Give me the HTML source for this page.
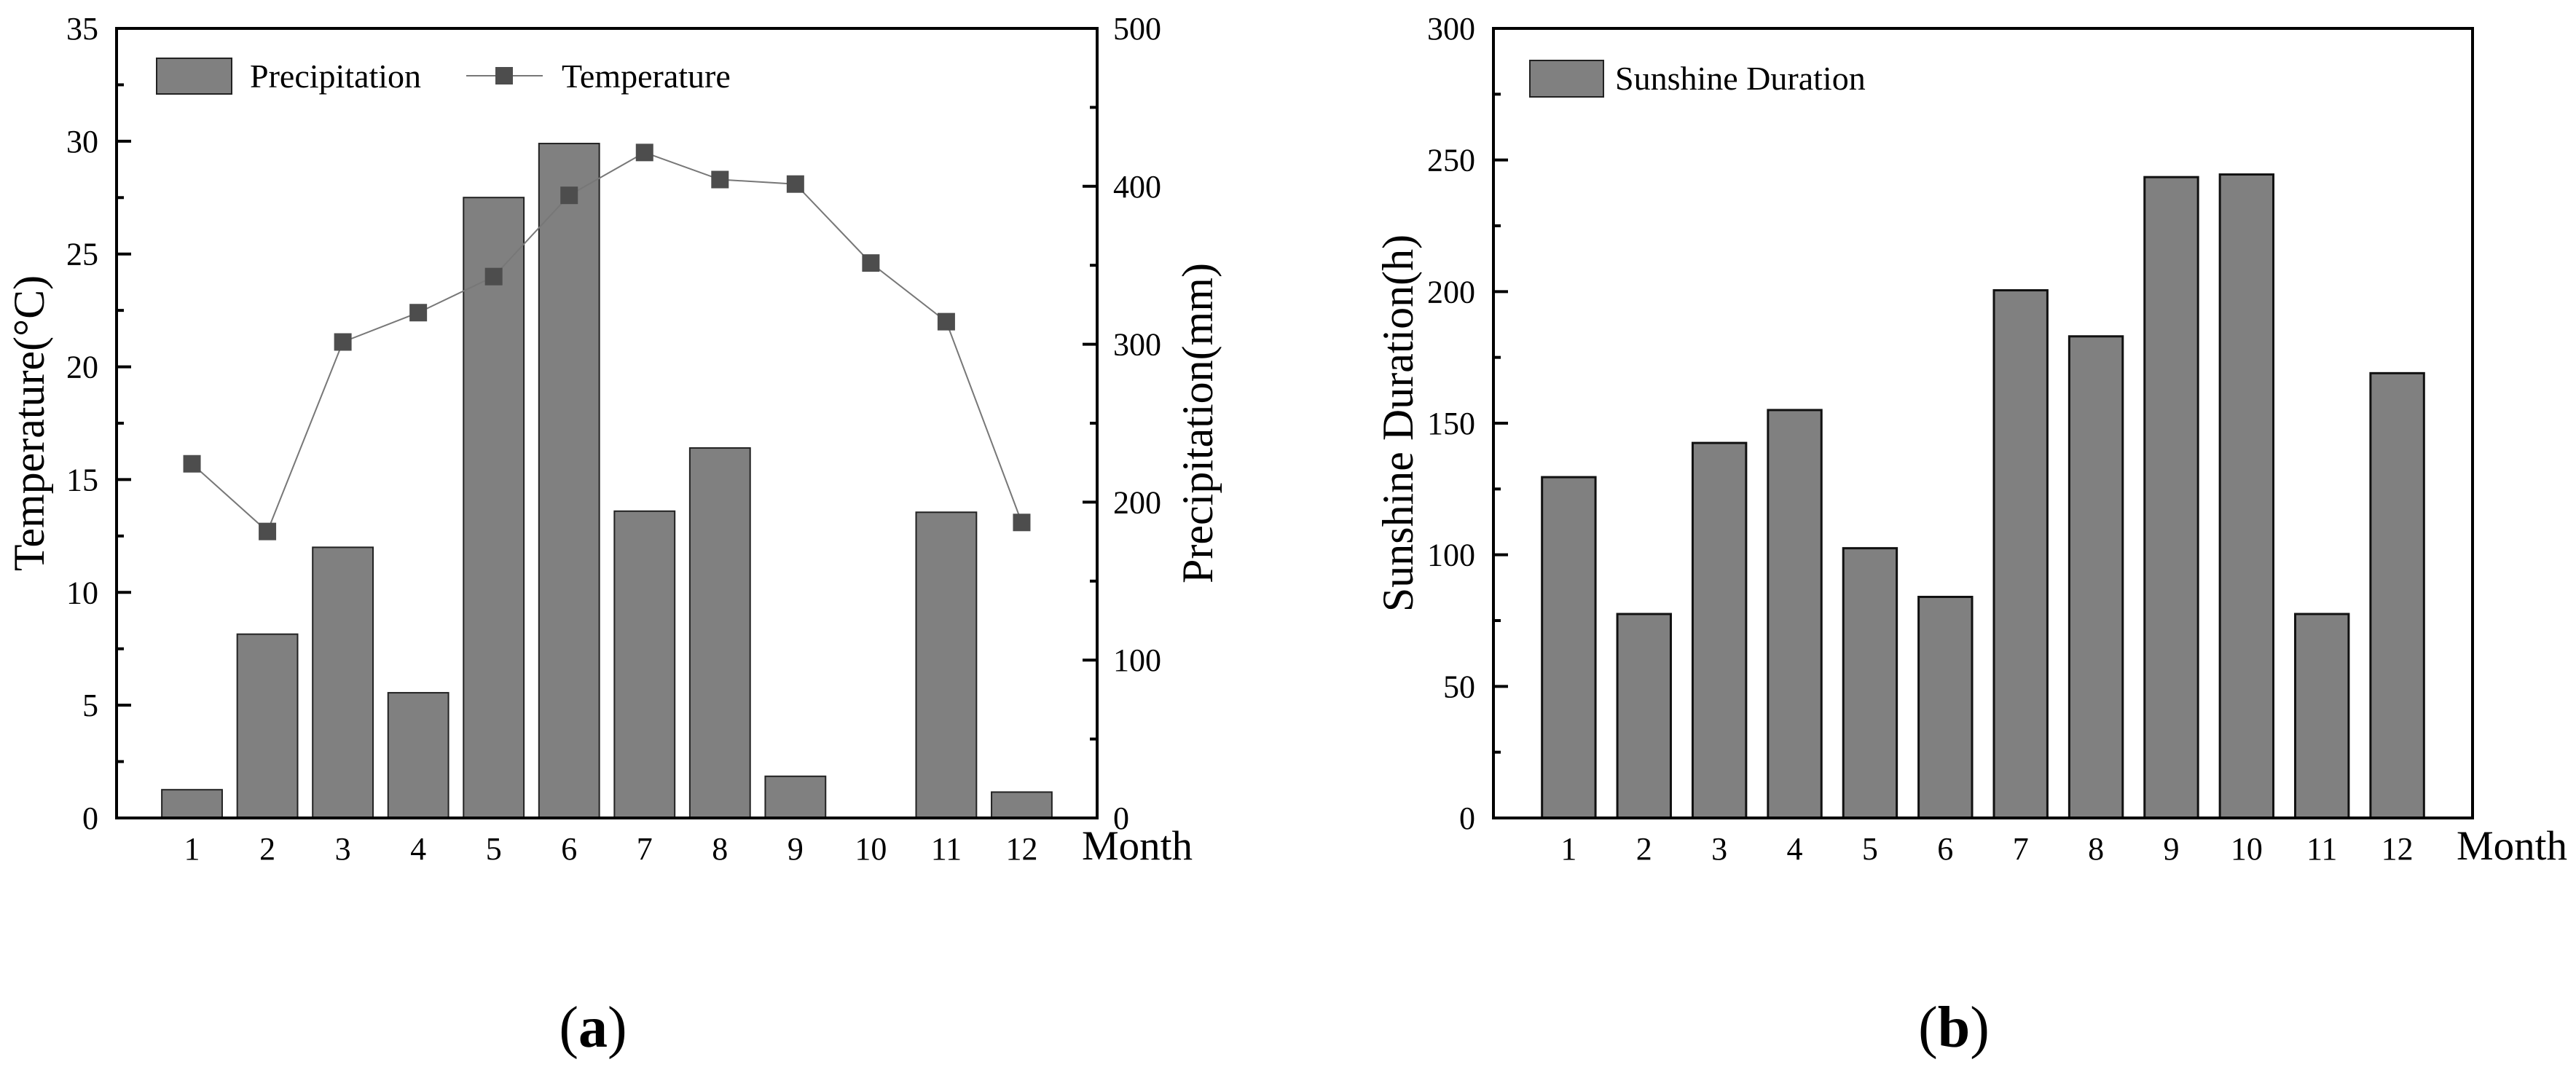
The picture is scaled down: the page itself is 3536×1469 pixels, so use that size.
<!DOCTYPE html>
<html><head><meta charset="utf-8"><style>
html,body{margin:0;padding:0;background:#fff;}
svg{display:block;font-family:"Liberation Serif",serif;}
</style></head><body>
<svg id="svg" width="3536" height="1469" viewBox="0 0 3536 1469" xmlns="http://www.w3.org/2000/svg">
<g id="ca"></g>
<g id="cb"></g>
<text x="814" y="1437" font-size="80" text-anchor="middle">(<tspan font-weight="bold">a</tspan>)</text>
<text x="2682" y="1437" font-size="80" text-anchor="middle">(<tspan font-weight="bold">b</tspan>)</text>
</svg>
<script>
const months = ["1","2","3","4","5","6","7","8","9","10","11","12"];
const precipitation = [17.9,116.4,171.4,79.3,392.9,427.1,194.3,234.3,26.4,0,193.6,16.4];
const temperature = [15.7,12.7,21.1,22.4,24.0,27.6,29.5,28.3,28.1,24.6,22.0,13.1];
const sunshine = [129.5,77.5,142.5,155,102.5,84,200.5,183,243.5,244.5,77.5,169];
const tempTicks = [0,5,10,15,20,25,30,35];
const precipTicks = [0,100,200,300,400,500];
const sunTicks = [0,50,100,150,200,250,300];

const NS="http://www.w3.org/2000/svg";
function mk(parent,tag,attrs,text){const e=document.createElementNS(NS,tag);for(const k in attrs)e.setAttribute(k,attrs[k]);if(text!==undefined)e.textContent=text;parent.appendChild(e);return e;}

const T=39,B=1123;
// ---------- chart A ----------
const ga=document.getElementById('ca');
const aL=160,aR=1506;
const xa=i=>aL+(i+1)*(aR-aL)/13;
const yT=v=>B-(v/35)*(B-T);
const yP=v=>B-(v/500)*(B-T);
const stepA=(aR-aL)/13;
precipitation.forEach((v,i)=>{
  const r=mk(ga,'rect',{x:xa(i)-stepA*0.4,y:yP(v),width:stepA*0.8,height:B-yP(v),fill:'#808080',stroke:'#222',"stroke-width":2});
  
  
});
const pts=temperature.map((v,i)=>xa(i)+','+yT(v)).join(' ');
const pl=mk(ga,'polyline',{points:pts,fill:'none',stroke:'#777',"stroke-width":2});


temperature.forEach((v,i)=>{
  const m=mk(ga,'rect',{x:xa(i)-12,y:yT(v)-12,width:24,height:24,fill:'#4d4d4d'});
  
  
});
const fa=mk(ga,'rect',{x:aL,y:T,width:aR-aL,height:B-T,fill:'none',stroke:'#000',"stroke-width":4});


for(let v=0;v<=35;v+=2.5){const maj=v%5===0;mk(ga,'line',{x1:aL,x2:aL+(maj?20:10),y1:yT(v),y2:yT(v),stroke:'#000',"stroke-width":4});}
tempTicks.forEach(v=>{const t=mk(ga,'text',{x:135,y:yT(v)+15,"font-size":44,"text-anchor":"end"},String(v));
  
  });
for(let v=0;v<=500;v+=50){const maj=v%100===0;mk(ga,'line',{x1:aR,x2:aR-(maj?20:10),y1:yP(v),y2:yP(v),stroke:'#000',"stroke-width":4});}
precipTicks.forEach(v=>{const t=mk(ga,'text',{x:1528,y:yP(v)+15,"font-size":44},String(v));
  
  });
months.forEach((m,i)=>{const t=mk(ga,'text',{x:xa(i),y:1180,"font-size":44,"text-anchor":"middle"},m);
  
  });
let t;
t=mk(ga,'text',{x:1485,y:1180,"font-size":57},'Month');
t=mk(ga,'text',{x:0,y:0,"font-size":60,"text-anchor":"middle",transform:'translate(60,581) rotate(-90)'},'Temperature(°C)');
t=mk(ga,'text',{x:0,y:0,"font-size":60,"text-anchor":"middle",transform:'translate(1664,581) rotate(-90)'},'Precipitation(mm)');
let lg=mk(ga,'g',{});
mk(lg,'rect',{x:215,y:80,width:103,height:49,fill:'#808080',stroke:'#222',"stroke-width":2});
mk(lg,'text',{x:343,y:120,"font-size":46},'Precipitation');
mk(lg,'line',{x1:640,x2:745,y1:104,y2:104,stroke:'#777',"stroke-width":2});
mk(lg,'rect',{x:680,y:92,width:24,height:24,fill:'#4d4d4d'});
mk(lg,'text',{x:771,y:120,"font-size":46},'Temperature');

// ---------- chart B ----------
const gb=document.getElementById('cb');
const bL=2050,bR=3394;
const stepB=(bR-bL)/13;
const xb=i=>bL+(i+1)*stepB;
const yS=v=>B-(v/300)*(B-T);
sunshine.forEach((v,i)=>{
  const r=mk(gb,'rect',{x:xb(i)-stepB*0.355,y:yS(v),width:stepB*0.71,height:B-yS(v),fill:'#808080',stroke:'#111',"stroke-width":3});
  
  
});
const fb=mk(gb,'rect',{x:bL,y:T,width:bR-bL,height:B-T,fill:'none',stroke:'#000',"stroke-width":4});


for(let v=0;v<=300;v+=25){const maj=v%50===0;mk(gb,'line',{x1:bL,x2:bL+(maj?20:10),y1:yS(v),y2:yS(v),stroke:'#000',"stroke-width":4});}
sunTicks.forEach(v=>{const t=mk(gb,'text',{x:2025,y:yS(v)+15,"font-size":44,"text-anchor":"end"},String(v));
  
  });
months.forEach((m,i)=>{const t=mk(gb,'text',{x:xb(i),y:1180,"font-size":44,"text-anchor":"middle"},m);
  
  });
t=mk(gb,'text',{x:3372,y:1180,"font-size":57},'Month');
t=mk(gb,'text',{x:0,y:0,"font-size":60,"text-anchor":"middle",transform:'translate(1939,581) rotate(-90)'},'Sunshine Duration(h)');
lg=mk(gb,'g',{});
mk(lg,'rect',{x:2100,y:83,width:101,height:50,fill:'#808080',stroke:'#222',"stroke-width":2});
mk(lg,'text',{x:2217,y:123,"font-size":46},'Sunshine Duration');
</script>
</body></html>
